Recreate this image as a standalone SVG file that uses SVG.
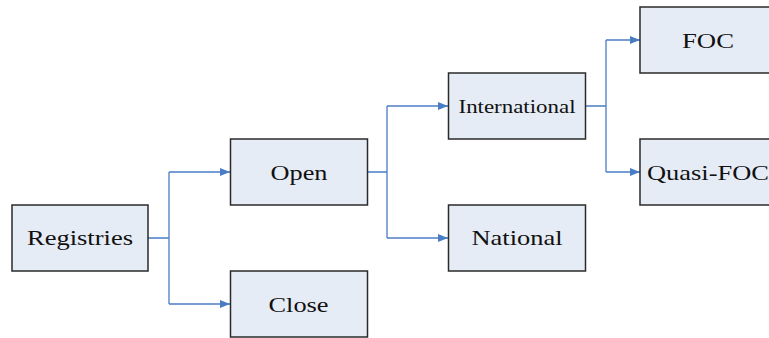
<svg xmlns="http://www.w3.org/2000/svg" width="769" height="338" viewBox="0 0 769 338">
<style>
.box{fill:#E6ECF6;stroke:#2a2a2a;stroke-width:1.5}
.t{font-family:"Liberation Serif","Times New Roman",serif;font-size:22px;fill:#111;text-anchor:middle}
.c{fill:none;stroke:#4A7CC6;stroke-width:1.3}
</style>
<defs>
<marker id="ah" viewBox="0 0 10 8" refX="10" refY="4" markerWidth="10" markerHeight="8" markerUnits="userSpaceOnUse" orient="auto">
<path d="M0,0 L10,4 L0,8 Z" fill="#4A7CC6"/>
</marker>
</defs>
<rect width="769" height="338" fill="#fff"/>
<g id="connectors">
<path class="c" d="M148,238 H169 M169,172 V304"/>
<path class="c" d="M169,172 H230" marker-end="url(#ah)"/>
<path class="c" d="M169,304 H230" marker-end="url(#ah)"/>
<path class="c" d="M367,172 H387 M387,106 V238"/>
<path class="c" d="M387,106 H448" marker-end="url(#ah)"/>
<path class="c" d="M387,238 H448" marker-end="url(#ah)"/>
<path class="c" d="M586,106 H606 M606,40 V172"/>
<path class="c" d="M606,40 H640" marker-end="url(#ah)"/>
<path class="c" d="M606,172 H640" marker-end="url(#ah)"/>
</g>
<g id="registries">
<rect class="box" x="12" y="205" width="136" height="66"/>
<text class="t" x="80" y="245" textLength="106" lengthAdjust="spacingAndGlyphs">Registries</text>
</g>
<g id="open">
<rect class="box" x="230.5" y="139" width="137" height="66"/>
<text class="t" x="299" y="179.5" textLength="57" lengthAdjust="spacingAndGlyphs">Open</text>
</g>
<g id="close">
<rect class="box" x="230.5" y="271" width="137" height="66"/>
<text class="t" x="298.5" y="311.5" textLength="60" lengthAdjust="spacingAndGlyphs">Close</text>
</g>
<g id="international">
<rect class="box" x="448.5" y="73" width="137" height="66"/>
<text class="t" x="517" y="112.5" style="font-size:19.5px" textLength="117" lengthAdjust="spacingAndGlyphs">International</text>
</g>
<g id="national">
<rect class="box" x="448.5" y="205" width="137" height="66"/>
<text class="t" x="517" y="245" textLength="91" lengthAdjust="spacingAndGlyphs">National</text>
</g>
<g id="foc">
<rect class="box" x="640" y="7" width="137" height="66"/>
<text class="t" x="708" y="47.5" textLength="52" lengthAdjust="spacingAndGlyphs">FOC</text>
</g>
<g id="quasi-foc">
<rect class="box" x="640" y="139" width="137" height="66"/>
<text class="t" x="708" y="180" textLength="122" lengthAdjust="spacingAndGlyphs">Quasi-FOC</text>
</g>
</svg>
